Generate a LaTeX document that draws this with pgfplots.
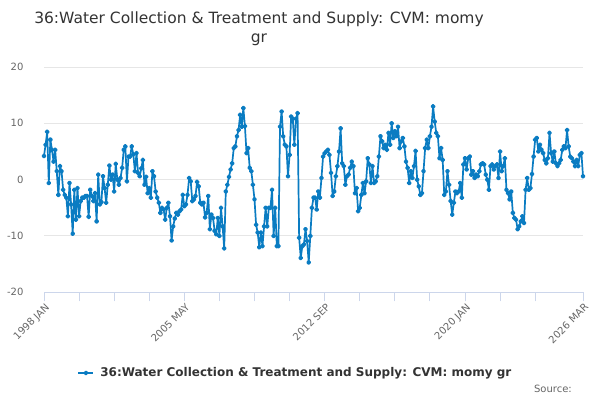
\documentclass[border=0pt]{standalone}
\usepackage{fontspec}
\setmainfont{DejaVu Sans}
\usepackage{pgfplots}
\usepackage{pgfplotstable}
\pgfplotsset{compat=1.18}
\definecolor{lineblue}{HTML}{0A7CC2}
\definecolor{gridc}{HTML}{E6E6E6}
\definecolor{axisc}{HTML}{CCD6EB}
\definecolor{txtdark}{HTML}{333333}
\definecolor{txtgray}{HTML}{666666}
\pgfplotstableread{
m v
0 4.2
1 6.2
2 8.5
3 -0.6
4 7.1
5 5.3
6 3.2
7 5.3
8 1.5
9 -2.7
10 2.4
11 1.5
12 -1.8
13 -2.7
14 -3.2
15 -6.5
16 -0.6
17 -4.4
18 -9.6
19 -1.8
20 -7.1
21 -1.5
22 -6.5
23 -3.8
24 -3.2
25 -3.2
26 -2.9
27 -2.9
28 -6.6
29 -1.8
30 -2.9
31 -3.8
32 -2.4
33 -7.4
34 0.9
35 -4.4
36 -4.0
37 0.6
38 -1.5
39 -4.1
40 -0.9
41 2.5
42 0
43 0.9
44 -2.1
45 2.8
46 0
47 -0.9
48 0.3
49 2.1
50 5.3
51 5.9
52 -0.3
53 4.1
54 4.1
55 5.9
56 4.5
57 1.5
58 4.7
59 1.2
60 0.6
61 2.0
62 3.5
63 -0.9
64 0.5
65 -2.4
66 -1.5
67 -3.2
68 1.5
69 0.6
70 -2.1
71 -3.2
72 -4.1
73 -5.9
74 -5.0
75 -5.3
76 -7.1
77 -5.0
78 -4.1
79 -6.5
80 -10.8
81 -8.3
82 -6.9
83 -5.9
84 -6.2
85 -5.6
86 -5.3
87 -2.7
88 -4.7
89 -4.4
90 -2.7
91 0.3
92 -0.3
93 -3.8
94 -3.5
95 -2.9
96 -0.4
97 -1.2
98 -4.1
99 -4.4
100 -4.1
101 -6.7
102 -5.9
103 -2.9
104 -8.8
105 -6.2
106 -6.8
107 -9.1
108 -9.7
109 -6.8
110 -10
111 -5
112 -8.3
113 -12.2
114 -2.1
115 -0.9
116 0.5
117 1.8
118 2.9
119 5.6
120 5.9
121 7.7
122 8.8
123 11.5
124 9.4
125 12.7
126 9.5
127 4.7
128 5.6
129 2.1
130 1.5
131 -0.9
132 -3.5
133 -8.0
134 -9.4
135 -12.0
136 -9.4
137 -11.8
138 -8.3
139 -5.0
140 -8.3
141 -5.0
142 -5.0
143 -1.8
144 -10.0
145 -5.0
146 -11.8
147 -11.8
148 9.4
149 12.1
150 7.7
151 6.2
152 5.9
153 0.6
154 4.4
155 11.2
156 10.8
157 6.2
158 10.8
159 11.8
160 -10.3
161 -13.9
162 -11.8
163 -11.5
164 -8.8
165 -10.9
166 -14.7
167 -10.0
168 -5.0
169 -3.2
170 -3.2
171 -5.3
172 -2.1
173 -3.2
174 0.3
175 4.1
176 4.7
177 5.0
178 5.3
179 4.4
180 1.2
181 -2.9
182 -2.1
183 0.6
184 2.4
185 5.0
186 9.1
187 2.9
188 2.4
189 -0.9
190 0.6
191 0.9
192 2.1
193 3.2
194 2.4
195 -2.4
196 -1.5
197 -5.6
198 -5.0
199 -2.7
200 -0.6
201 -2.4
202 -0.3
203 3.8
204 2.7
205 -0.6
206 2.4
207 -0.6
208 -0.3
209 0.6
210 4.1
211 7.7
212 6.8
213 5.6
214 6.2
215 5.3
216 8.3
217 6.2
218 10.0
219 7.4
220 8.6
221 7.7
222 9.4
223 5.6
224 6.8
225 7.4
226 5.9
227 3.2
228 2.1
229 -0.6
230 1.5
231 0.3
232 2.4
233 5.1
234 0
235 -1.2
236 -2.7
237 -2.4
238 1.5
239 5.6
240 7.1
241 5.6
242 7.7
243 9.4
244 13.0
245 10.3
246 8.3
247 7.7
248 3.8
249 5.6
250 3.5
251 -2.7
252 -2.1
253 1.5
254 -0.9
255 -3.8
256 -6.2
257 -4.1
258 -2.1
259 -2.4
260 -2.1
261 -0.6
262 -3.2
263 2.7
264 3.8
265 1.8
266 3.8
267 4.1
268 0.9
269 1.5
270 0.3
271 0.9
272 0.6
273 1.5
274 2.7
275 2.9
276 2.7
277 0.9
278 0
279 -1.8
280 2.4
281 2.7
282 1.8
283 2.4
284 2.7
285 0.3
286 5.0
287 1.5
288 2.4
289 3.8
290 -1.8
291 -2.4
292 -3.5
293 -2.1
294 -5.9
295 -6.8
296 -7.1
297 -8.8
298 -8.3
299 -7.4
300 -6.5
301 -7.7
302 -1.8
303 0.3
304 -1.8
305 -1.5
306 1.0
307 4.1
308 7.1
309 7.4
310 5.0
311 6.2
312 5.3
313 4.7
314 3.5
315 2.9
316 3.8
317 8.3
318 4.7
319 3.2
320 5.0
321 2.9
322 2.4
323 2.9
324 3.5
325 5.3
326 5.9
327 5.6
328 8.8
329 5.9
330 4.1
331 3.8
332 3.2
333 2.4
334 3.5
335 2.4
336 4.4
337 4.7
338 0.6
}\datatable
\begin{document}
\begin{tikzpicture}
\useasboundingbox (0,0) rectangle (600pt,400pt);
\fill[white] (0,0) rectangle (600pt,400pt);
\node[anchor=base, font=\fontsize{15.5}{19}\selectfont, text=txtdark, inner sep=0pt] at (259pt,376pt) {36:Water Collection \& Treatment and Supply: CVM: momy};
\node[anchor=base, font=\fontsize{15.5}{19}\selectfont, text=txtdark, inner sep=0pt] at (259pt,357.5pt) {gr};
\begin{axis}[
  at={(44pt,107.7pt)}, anchor=south west,
  scale only axis, width=539pt, height=225.3pt,
  xmin=0, xmax=338, ymin=-20, ymax=20,
  axis lines*=left,
  x axis line style={draw=axisc, line width=1pt},
  y axis line style={draw=none},
  ytick={-20,-10,0,10,20},
  ymajorgrids, grid style={draw=gridc, line width=1pt},
  ytick style={draw=none},
  xtick={0,88,176,264,338},
  xticklabels={1998 JAN,2005 MAY,2012 SEP,2020 JAN,2026 MAR},
  minor xtick={22,44,66,110,132,154,198,220,242,286,308},
  xtick style={draw=axisc, line width=1pt},
  tick align=outside, major tick length=9pt, minor tick length=9pt,
  /pgf/number format/assume math mode=true,
  yticklabel style={font=\fontsize{10}{12}\selectfont, text=txtgray, xshift=-8pt},
  xticklabel style={font=\fontsize{10}{12}\selectfont, text=txtgray, rotate=45, anchor=north east, xshift=3pt, yshift=2pt},
  legend style={at={(0.062,-0.358)}, anchor=west, draw=none, fill=none,
    font=\fontsize{12}{14}\selectfont\bfseries, text=txtdark, inner sep=0pt},
  legend cell align=left,
  legend image code/.code={\draw[#1, mark repeat=2, mark phase=2] plot coordinates {(0pt,0pt) (7.5pt,0pt) (15pt,0pt)}; \path (19pt,0pt);},
  clip=false,
]
\addplot[color=lineblue, line width=1.7pt, line join=round, mark=*, mark size=1.6pt, mark options={solid}] table[x=m, y=v] {\datatable};
\addlegendentry{36:Water Collection \& Treatment and Supply: CVM: momy gr}
\end{axis}
\node[anchor=base east, font=\fontsize{10}{12}\selectfont, text=txtgray, inner sep=0pt] at (572pt,8pt) {Source:};
\end{tikzpicture}
\end{document}
